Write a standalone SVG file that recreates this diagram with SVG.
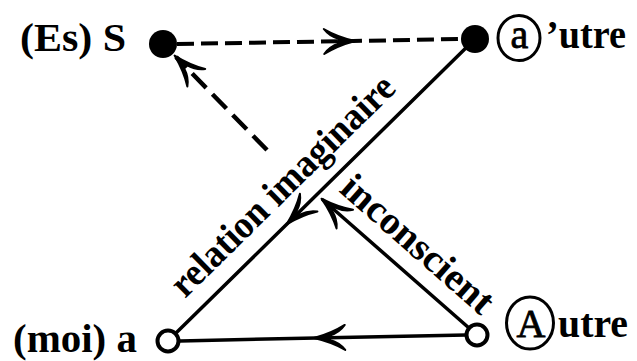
<svg xmlns="http://www.w3.org/2000/svg" width="637" height="361" viewBox="0 0 637 361">
  <defs>
    <style>
      .lbl { font-family: "Liberation Serif", "DejaVu Serif", serif; font-weight: bold; font-size: 39px; fill: #000; }
      .circ { font-family: "Liberation Serif", "DejaVu Serif", serif; font-weight: normal; fill: #000; stroke: #000; stroke-width: 0.8; }
      .solid { fill: none; stroke: #000; stroke-width: 3.5; stroke-linecap: round; }
      .dash-h { fill: none; stroke: #000; stroke-width: 4; stroke-dasharray: 17 7; }
      .dash-d { fill: none; stroke: #000; stroke-width: 4.5; stroke-dasharray: 20 9; }
      .dot { fill: #000; }
      .ring { fill: #fff; stroke: #000; stroke-width: 4; }
      .badge { fill: none; stroke: #000; stroke-width: 3; }
    </style>
    <marker id="arr" viewBox="-34 -16 38 32" markerWidth="38" markerHeight="32" refX="0" refY="0" orient="auto" markerUnits="userSpaceOnUse">
      <path d="M2,0 C-8,-2.5 -20,-7 -29,-12.5 C-25,-7 -20,-4 -14,-2.2 L-14,2.2 C-20,4 -25,7 -29,12.5 C-20,7 -8,2.5 2,0 Z" fill="#000" stroke="#000" stroke-width="2" stroke-linejoin="round" stroke-dasharray="none"/>
    </marker>
  </defs>

  <g id="connectors">
    <path id="e-S-aprime" class="dash-h" d="M177,44 L353,41 L461,39" marker-mid="url(#arr)"/>
    <path id="e-mid-S" class="dash-d" d="M267,150 L176,57" marker-end="url(#arr)"/>
    <path id="e-aprime-moi" class="solid" d="M475,39 L288,223 L176,333" marker-mid="url(#arr)"/>
    <path id="e-Autre-mid" class="solid" d="M469,328 L323,200" marker-end="url(#arr)"/>
    <path id="e-Autre-moi" class="solid" d="M466,335 L316,338 L180,341" marker-mid="url(#arr)"/>
  </g>

  <g id="edge-labels">
    <text class="lbl" transform="translate(185,299) rotate(-44.5)" textLength="298" lengthAdjust="spacingAndGlyphs">relation imaginaire</text>
    <text class="lbl" transform="translate(338,191) rotate(41.2)" textLength="190" lengthAdjust="spacingAndGlyphs">inconscient</text>
  </g>

  <g id="node-S">
    <circle class="dot" cx="163" cy="44" r="14"/>
    <text class="lbl" x="20" y="51" textLength="106" lengthAdjust="spacingAndGlyphs">(Es) S</text>
  </g>

  <g id="node-aprime">
    <circle class="dot" cx="475" cy="39" r="14"/>
    <ellipse class="badge" cx="519" cy="38" rx="21" ry="22.5"/>
    <text class="circ" x="519.5" y="48" text-anchor="middle" font-size="40">a</text>
    <text class="lbl" x="546" y="48" textLength="80" lengthAdjust="spacingAndGlyphs">’utre</text>
  </g>

  <g id="node-moi">
    <circle class="ring" cx="168" cy="341" r="10.5"/>
    <text class="lbl" x="13" y="352" textLength="124" lengthAdjust="spacingAndGlyphs">(moi) a</text>
  </g>

  <g id="node-Autre">
    <circle class="ring" cx="477" cy="335" r="10.5"/>
    <ellipse class="badge" cx="530" cy="323" rx="23.5" ry="26"/>
    <text class="circ" x="531" y="337" text-anchor="middle" font-size="40">A</text>
    <text class="lbl" x="558" y="337" textLength="70" lengthAdjust="spacingAndGlyphs">utre</text>
  </g>
</svg>
